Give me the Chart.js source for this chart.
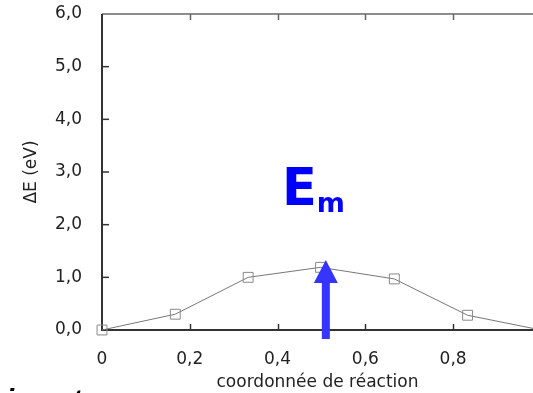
<!DOCTYPE html>
<html>
<head>
<meta charset="utf-8">
<script src="https://cdn.jsdelivr.net/npm/chart.js@4"></script>
<style>
  html, body { margin: 0; padding: 0; background: #fff; overflow: hidden; }
  #wrap { width: 533px; height: 393px; position: relative; }
</style>
</head>
<body>
<div id="wrap"><canvas id="c"></canvas></div>
<script>
// ---- data ----
const xValues = [0, 0.167, 0.333, 0.498, 0.666, 0.833, 1.0];
const yValues = [0, 0.30, 1.00, 1.19, 0.97, 0.28, 0];
const xTickValues = [0, 0.2, 0.4, 0.6, 0.8];
const xTickLabels = ['0', '0,2', '0,4', '0,6', '0,8'];
const yTickValues = [0, 1, 2, 3, 4, 5, 6];
const yTickLabels = ['0,0', '1,0', '2,0', '3,0', '4,0', '5,0', '6,0'];
const xTitle = 'coordonnée de réaction';
const yTitle = 'ΔE (eV)';
const xMin = 0, xMax = 0.982, yMin = 0, yMax = 6;
// annotation (data units)
const arrowX = 0.51, arrowTop = 1.33, arrowBottom = -0.17;
const labelMain = 'E', labelSub = 'm';
const labelX = 0.41, labelY = 2.37;
const cutText = 'iamatry';

Chart.defaults.font.family = "'DejaVu Sans', sans-serif";
Chart.defaults.color = '#222';

const framePlugin = {
  id: 'frame',
  beforeDatasetsDraw(chart) {
    const {ctx, chartArea: a, scales: {x, y}} = chart;
    ctx.save();
    // top border (gray)
    ctx.strokeStyle = '#666';
    ctx.lineWidth = 1.5;
    ctx.beginPath();
    ctx.moveTo(a.left, a.top); ctx.lineTo(a.right, a.top);
    ctx.stroke();
    // top ticks
    xTickValues.slice(1).forEach(v => {
      const px = Math.round(x.getPixelForValue(v)) + 0.5;
      ctx.beginPath(); ctx.moveTo(px, a.top); ctx.lineTo(px, a.top + 6); ctx.stroke();
    });
    // left and bottom axes (dark)
    ctx.strokeStyle = '#333';
    ctx.lineWidth = 2;
    ctx.beginPath();
    ctx.moveTo(a.left, a.top); ctx.lineTo(a.left, a.bottom); ctx.lineTo(a.right, a.bottom);
    ctx.stroke();
    ctx.lineWidth = 1.5;
    yTickValues.slice(1, -1).forEach(v => {
      const py = y.getPixelForValue(v);
      ctx.beginPath(); ctx.moveTo(a.left, py); ctx.lineTo(a.left + 7, py); ctx.stroke();
    });
    xTickValues.slice(1).forEach(v => {
      const px = Math.round(x.getPixelForValue(v)) + 0.5;
      ctx.beginPath(); ctx.moveTo(px, a.bottom); ctx.lineTo(px, a.bottom - 6); ctx.stroke();
    });
    ctx.restore();
  },
  afterDatasetsDraw(chart) {
    const {ctx, scales: {x, y}} = chart;
    ctx.save();
    // arrow
    const ax = x.getPixelForValue(arrowX);
    const top = y.getPixelForValue(arrowTop);
    const bot = y.getPixelForValue(arrowBottom);
    const headLen = 23, headHalf = 12, shaftHalf = 4;
    ctx.fillStyle = '#3535ff';
    ctx.beginPath();
    ctx.moveTo(ax - shaftHalf, bot);
    ctx.lineTo(ax - shaftHalf, top + headLen);
    ctx.lineTo(ax - headHalf, top + headLen);
    ctx.lineTo(ax, top);
    ctx.lineTo(ax + headHalf, top + headLen);
    ctx.lineTo(ax + shaftHalf, top + headLen);
    ctx.lineTo(ax + shaftHalf, bot);
    ctx.closePath();
    ctx.fill();
    // E_m label
    const lx = x.getPixelForValue(labelX);
    const ly = y.getPixelForValue(labelY);
    ctx.fillStyle = '#0000ff';
    ctx.textAlign = 'left';
    ctx.textBaseline = 'alphabetic';
    ctx.font = "bold 51px 'DejaVu Sans', sans-serif";
    ctx.fillText(labelMain, lx, ly);
    const w = ctx.measureText(labelMain).width;
    ctx.font = "bold 27px 'DejaVu Sans', sans-serif";
    ctx.fillText(labelSub, lx + w, ly + 7);
    ctx.restore();
  },
  afterDraw(chart) {
    const {ctx} = chart;
    ctx.save();
    ctx.fillStyle = '#000';
    ctx.font = "bold italic 29px 'Liberation Sans', Arial, sans-serif";
    ctx.textAlign = 'left';
    ctx.textBaseline = 'alphabetic';
    ctx.fillText(cutText, 6, 410);
    ctx.restore();
  }
};

new Chart(document.getElementById('c'), {
  type: 'scatter',
  data: {
    datasets: [{
      data: xValues.map((v, i) => ({x: v, y: yValues[i]})),
      showLine: true,
      borderColor: '#777',
      borderWidth: 1,
      pointStyle: 'rect',
      pointRadius: 7,
      pointHoverRadius: 7,
      pointBorderColor: '#888',
      pointBorderWidth: 1,
      pointBackgroundColor: 'rgba(0,0,0,0)',
      clip: false
    }]
  },
  options: {
    responsive: true,
    maintainAspectRatio: false,
    animation: false,
    events: [],
    layout: { autoPadding: false, padding: { top: 14, left: 0, right: 0, bottom: 0 } },
    plugins: { legend: { display: false }, tooltip: { enabled: false } },
    scales: {
      x: {
        type: 'linear', min: xMin, max: xMax,
        grid: { display: false }, border: { display: false },
        afterBuildTicks: s => { s.ticks = xTickValues.map(v => ({value: v})); },
        afterFit: s => { s.height = 63; s.paddingLeft = 0; s.paddingRight = 0; },
        ticks: {
          autoSkip: false, maxRotation: 0, padding: 11,
          font: { size: 17 }, color: '#222',
          callback: (v, i) => xTickLabels[i]
        },
        title: { display: true, text: xTitle, font: { size: 17 }, color: '#222', padding: { top: 0, bottom: 0 } }
      },
      y: {
        type: 'linear', min: yMin, max: yMax,
        grid: { display: false }, border: { display: false },
        afterBuildTicks: s => { s.ticks = yTickValues.map(v => ({value: v})); },
        afterFit: s => { s.width = 102; s.paddingTop = 0; s.paddingBottom = 0; },
        ticks: {
          autoSkip: false, padding: 12,
          font: { size: 17 }, color: '#222',
          callback: (v, i) => yTickLabels[i]
        },
        title: { display: true, text: yTitle, font: { size: 17 }, color: '#222', padding: { top: 21, bottom: 0 } }
      }
    }
  },
  plugins: [framePlugin]
});
</script>
</body>
</html>
